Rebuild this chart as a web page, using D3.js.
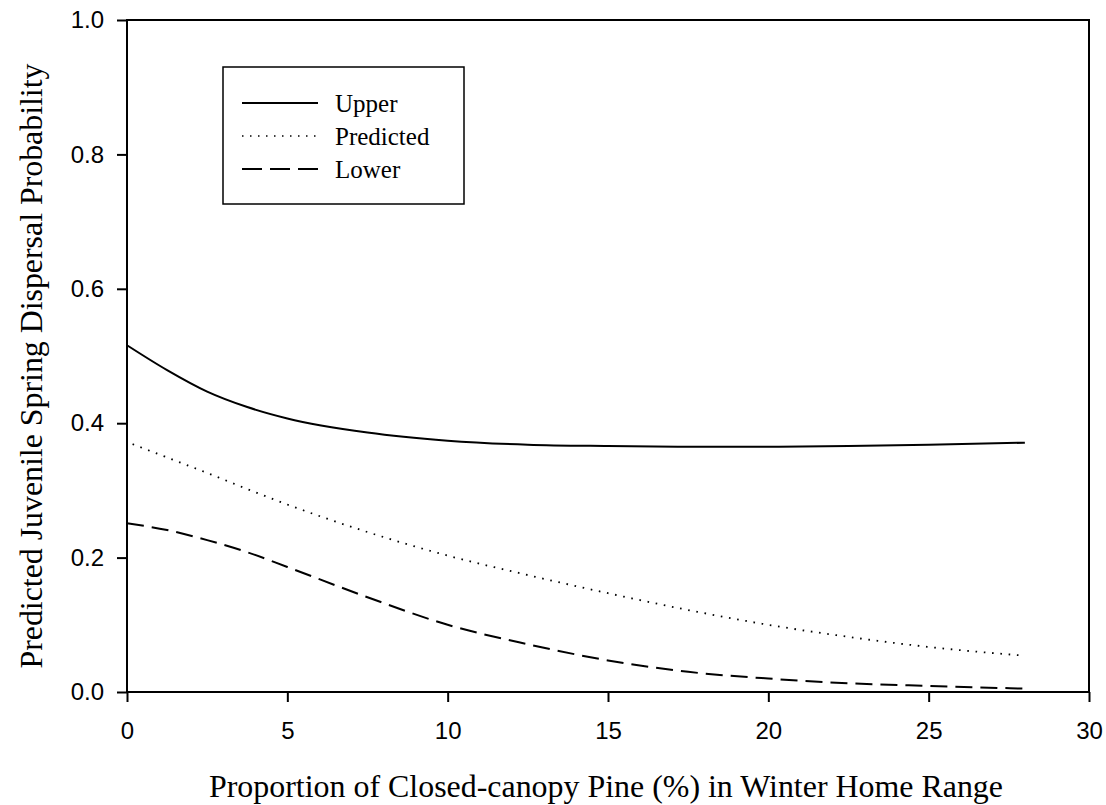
<!DOCTYPE html>
<html>
<head>
<meta charset="utf-8">
<script src="https://cdn.jsdelivr.net/npm/d3@7"></script>
<style>
  body { margin: 0; background: #fff; }
  svg { display: block; }
</style>
</head>
<body>
<div id="chart"></div>
<script>
// values
const xValues = [0, 1.25, 2.5, 3.75, 5, 7.5, 10, 12.5, 15, 17.5, 20, 22.5, 25, 28];
const upper = [0.516, 0.479, 0.447, 0.424, 0.407, 0.386, 0.374, 0.368, 0.366, 0.365, 0.365, 0.366, 0.368, 0.371];
const predicted = [0.372, 0.349, 0.326, 0.302, 0.279, 0.238, 0.203, 0.174, 0.147, 0.122, 0.100, 0.082, 0.067, 0.054];
const lower = [0.251, 0.241, 0.226, 0.208, 0.186, 0.141, 0.100, 0.071, 0.047, 0.030, 0.020, 0.013, 0.009, 0.005];

const seriesNames = ["Upper", "Predicted", "Lower"];
const xTicks = [0, 5, 10, 15, 20, 25, 30];
const yTicks = [0, 0.2, 0.4, 0.6, 0.8, 1.0];

const xTitle = "Proportion of Closed-canopy Pine (%) in Winter Home Range";
const yTitle = "Predicted Juvenile Spring Dispersal Probability";

const width = 1106, height = 805;
const plot = { left: 127, right: 1089, top: 20, bottom: 692 };

const dashes = { Upper: null, Predicted: "1.6,6.7", Lower: "17,8" };
const legendDashes = { Upper: null, Predicted: "1.5,6.5", Lower: "20,8" };

const svg = d3.select("#chart").append("svg")
  .attr("width", width)
  .attr("height", height);

const x = d3.scaleLinear().domain([0, 30]).range([plot.left, plot.right]);
const y = d3.scaleLinear().domain([0, 1]).range([plot.bottom, plot.top]);

// frame
svg.append("rect")
  .attr("x", plot.left).attr("y", plot.top)
  .attr("width", plot.right - plot.left)
  .attr("height", plot.bottom - plot.top)
  .attr("fill", "none").attr("stroke", "#000").attr("stroke-width", 2);

// axes, ticks point outward
const xAxis = svg.append("g")
  .attr("transform", `translate(0,${plot.bottom})`)
  .call(d3.axisBottom(x).tickValues(xTicks).tickSize(10).tickPadding(20).tickFormat(d3.format("d")));
const yAxis = svg.append("g")
  .attr("transform", `translate(${plot.left},0)`)
  .call(d3.axisLeft(y).tickValues(yTicks).tickSize(10).tickPadding(13).tickFormat(d3.format(".1f")));

[xAxis, yAxis].forEach(g => {
  g.select(".domain").remove();
  g.selectAll(".tick line").attr("stroke", "#000").attr("stroke-width", 2);
  g.selectAll(".tick text")
    .attr("fill", "#000")
    .style("font-family", "'Liberation Sans', Arial, sans-serif")
    .style("font-size", "24px");
});
xAxis.selectAll(".tick text").attr("dy", "0.71em");

// curves
const line = d3.line().x(d => x(d[0])).y(d => y(d[1])).curve(d3.curveMonotoneX);
const seriesData = { Upper: upper, Predicted: predicted, Lower: lower };

seriesNames.forEach(name => {
  const pts = xValues.map((xv, i) => [xv, seriesData[name][i]]);
  svg.append("path")
    .datum(pts)
    .attr("d", line)
    .attr("fill", "none")
    .attr("stroke", "#000")
    .attr("stroke-width", name === "Predicted" ? 1.8 : 2)
    .attr("stroke-dasharray", dashes[name])
    .attr("stroke-dashoffset", name === "Predicted" ? -6 : 0);
});

// legend
const legend = svg.append("g");
legend.append("rect")
  .attr("x", 223).attr("y", 67).attr("width", 241).attr("height", 137)
  .attr("fill", "#fff").attr("stroke", "#000").attr("stroke-width", 1.5);

seriesNames.forEach((name, i) => {
  const ly = 103 + i * 33;
  legend.append("line")
    .attr("x1", 242).attr("x2", 318)
    .attr("y1", ly).attr("y2", ly)
    .attr("stroke", "#000")
    .attr("stroke-width", name === "Predicted" ? 1.6 : 2)
    .attr("stroke-dasharray", legendDashes[name]);
  legend.append("text")
    .attr("x", 335).attr("y", ly + 9)
    .style("font-family", "'Liberation Serif', 'Times New Roman', serif")
    .style("font-size", "25px")
    .text(name);
});

// axis titles
svg.append("text")
  .attr("x", (plot.left + plot.right) / 2 - 2)
  .attr("y", 797)
  .attr("text-anchor", "middle")
  .attr("textLength", 794)
  .attr("lengthAdjust", "spacingAndGlyphs")
  .style("font-family", "'Liberation Serif', 'Times New Roman', serif")
  .style("font-size", "31px")
  .text(xTitle);

svg.append("text")
  .attr("transform", `translate(42,${(plot.top + plot.bottom) / 2 + 10}) rotate(-90)`)
  .attr("text-anchor", "middle")
  .attr("textLength", 605)
  .attr("lengthAdjust", "spacingAndGlyphs")
  .style("font-family", "'Liberation Serif', 'Times New Roman', serif")
  .style("font-size", "31px")
  .text(yTitle);
</script>
</body>
</html>
